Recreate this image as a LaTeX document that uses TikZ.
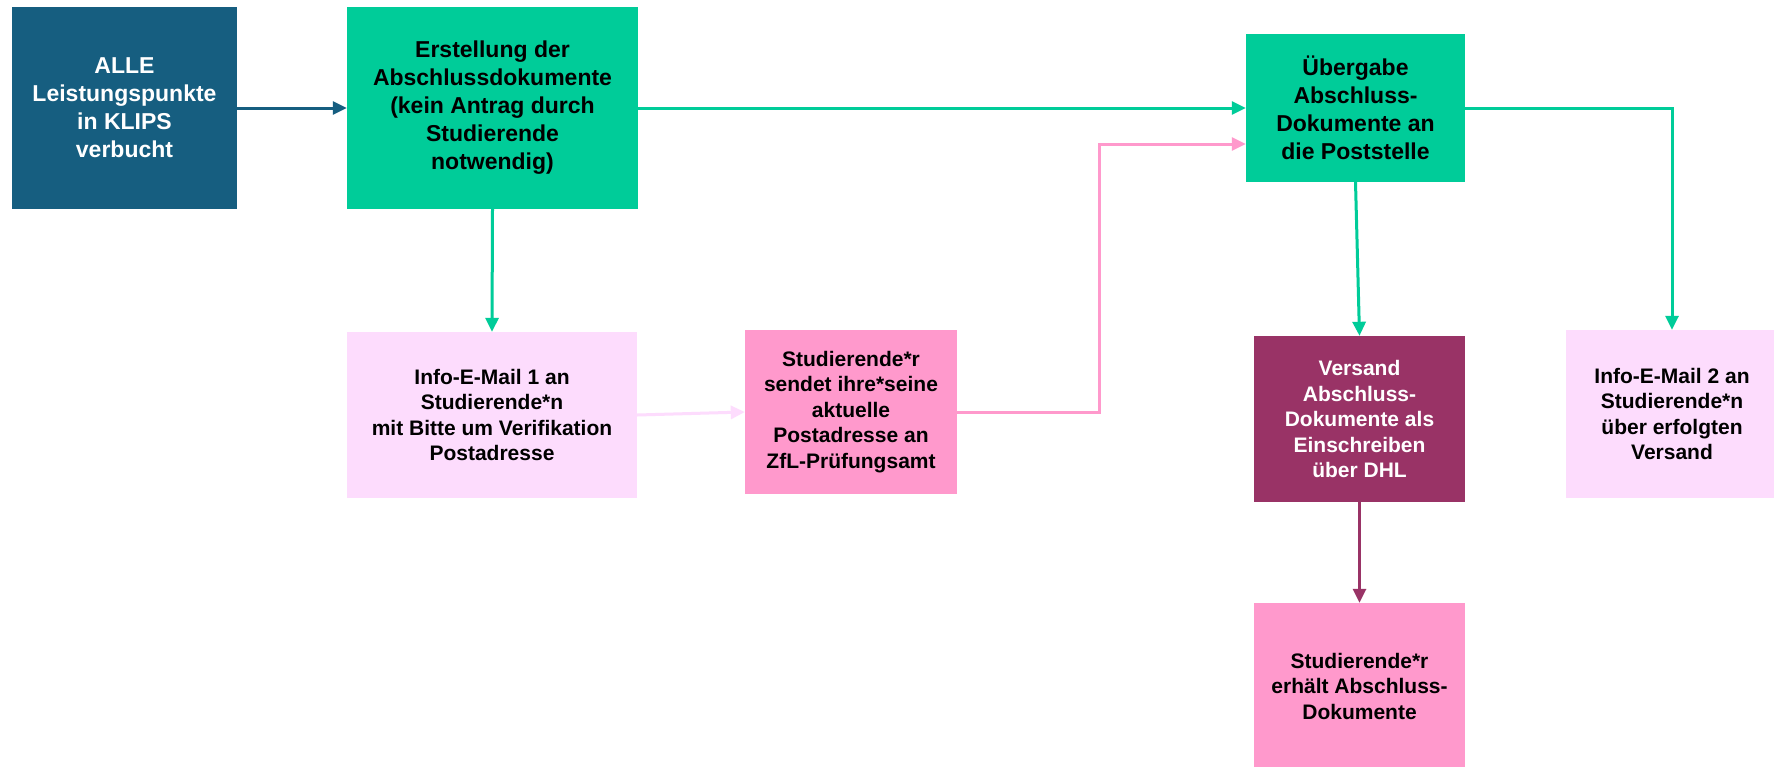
\documentclass[tikz,border=0pt]{standalone}
\usepackage{fontspec}
\setmainfont{Liberation Sans}
\usepackage{tikz}
\usetikzlibrary{arrows.meta}
\definecolor{dunkelblau}{RGB}{22,94,128}
\definecolor{gruen}{RGB}{0,204,153}
\definecolor{hellrosa}{RGB}{253,220,253}
\definecolor{rosa}{RGB}{255,153,204}
\definecolor{lila}{RGB}{153,51,102}
\begin{document}
\begin{tikzpicture}[x=1pt,y=-1pt,
  kasten/.style={inner sep=0pt,align=center,font=\bfseries\fontsize{21}{25.5}\selectfont},
  gross/.style={font=\bfseries\fontsize{23}{28}\selectfont},
  pfeil/.style={line width=3pt,-{Triangle[length=14pt,width=13pt]}}]
\fill[white] (0,0) rectangle (1774,766);
\useasboundingbox (0,0) rectangle (1774,766);
% obere Reihe
\node[kasten,gross,fill=dunkelblau,text=white,minimum width=225pt,minimum height=202pt] (alle) at (124.5,108) {ALLE\\Leistungspunkte\\in KLIPS\\verbucht};
\node[kasten,gross,fill=gruen,minimum width=291pt,minimum height=202pt] (erstellung) at (492.5,108) {Erstellung der\\Abschlussdokumente\\(kein Antrag durch\\Studierende\\notwendig)};
\node[kasten,gross,fill=gruen,minimum width=219pt,minimum height=148pt] (uebergabe) at (1355.5,108) {Übergabe\\Abschluss-\\Dokumente an\\die Poststelle};
% mittlere Reihe
\node[kasten,fill=hellrosa,minimum width=290pt,minimum height=166pt] (mail1) at (492,415) {Info-E-Mail 1 an\\Studierende*n\\mit Bitte um Verifikation\\Postadresse};
\node[kasten,fill=rosa,minimum width=212pt,minimum height=164pt] (sendet) at (851,412) {Studierende*r\\sendet ihre*seine\\aktuelle\\Postadresse an\\ZfL-Prüfungsamt};
\node[kasten,fill=lila,text=white,minimum width=211pt,minimum height=166pt] (versand) at (1359.5,419) {Versand\\Abschluss-\\Dokumente als\\Einschreiben\\über DHL};
\node[kasten,fill=hellrosa,minimum width=212pt,minimum height=168pt] (mail2) at (1672,414) {Info-E-Mail 2 an\\Studierende*n\\über erfolgten\\Versand};
% untere Reihe
\node[kasten,fill=rosa,minimum width=211pt,minimum height=166pt] (erhalten) at (1359.5,686) {Studierende*r\\erhält Abschluss-\\Dokumente};
% Pfeile
\coordinate (knick) at (1099,144);
\draw[pfeil,dunkelblau] (alle.east) -- (erstellung.west);
\draw[pfeil,gruen] (erstellung.east) -- (uebergabe.west);
\draw[pfeil,gruen] (erstellung.south) -- (mail1.north);
\draw[pfeil,hellrosa] (mail1.east) -- (sendet.west);
\draw[pfeil,rosa] (sendet.east) -| (knick) -- (knick -| uebergabe.west);
\draw[pfeil,gruen] (uebergabe.south) -- (versand.north);
\draw[pfeil,gruen] (uebergabe.east) -| (mail2.north);
\draw[pfeil,lila] (versand.south) -- (erhalten.north);
\end{tikzpicture}
\end{document}
